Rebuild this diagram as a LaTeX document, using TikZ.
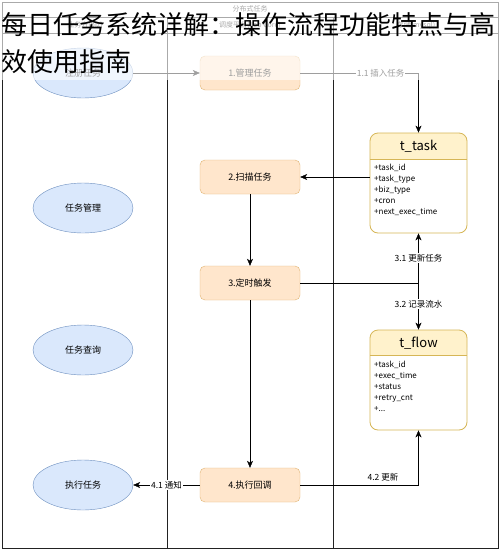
\documentclass[tikz,border=0pt]{standalone}
\usepackage{fontspec}
\setmainfont{Noto Sans CJK SC}
\usepackage{tikz}
\usetikzlibrary{shapes.geometric,arrows.meta}

\definecolor{userfill}{HTML}{DAE8FC}
\definecolor{userline}{HTML}{6C8EBF}
\definecolor{stepfill}{HTML}{FFE6CC}
\definecolor{stepline}{HTML}{E0B473}
\definecolor{tblfill}{HTML}{FFF2CC}
\definecolor{tblline}{HTML}{D6B656}
\definecolor{laneline}{HTML}{222222}

\begin{document}
\begin{tikzpicture}[x=1pt,y=-1pt]
\tikzstyle{every node}+=[inner sep=0pt]
\tikzstyle{usecase}=[ellipse,draw=userline,fill=userfill,minimum width=100,minimum height=50,font=\fontsize{9}{11}\selectfont]
\tikzstyle{stepbox}=[rectangle,rounded corners=5,draw=stepline,fill=stepfill,minimum width=100,minimum height=34,font=\fontsize{9}{11}\selectfont]
\tikzstyle{tblbox}=[rectangle,rounded corners=8,draw=tblline,line width=0.8pt,minimum width=97]
\tikzstyle{flow}=[black,-{Stealth[length=7pt,width=6pt,inset=2pt]}]
\tikzstyle{tag}=[fill=white,inner sep=1pt,font=\fontsize{8.5}{10}\selectfont]
\tikzstyle{lanehd}=[text=laneline,font=\fontsize{7}{8}\selectfont]
\useasboundingbox (0,0) rectangle (500,550);
\fill [white] (0,0) rectangle (500,550);
% pool and lanes
\draw [laneline] (2,2) rectangle (498,548);
\draw [laneline] (2,17) -- (498,17);
\draw [laneline] (2,33) -- (498,33);
\draw [laneline] (167,17) -- (167,548);
\draw [laneline] (333,17) -- (333,548);
\node [lanehd] (pool) at (250,9) {分布式任务};
\node [lanehd] (lanebiz) at (85,25) {业务方(biz)};
\node [lanehd] (lanejob) at (250,25) {调度平台(Job Core)};
\node [lanehd] (lanedb) at (416,25) {存储(mysql)};
% biz lane
\node [usecase] (reg) at (83,73) {注册任务};
\node [usecase] (manage) at (83,208) {任务管理};
\node [usecase] (query) at (83,350) {任务查询};
\node [usecase] (run) at (83,485) {执行任务};
% job lane
\node [stepbox] (mgr) at (250,73) {1.管理任务};
\node [stepbox] (scan) at (250,177) {2.扫描任务};
\node [stepbox] (trig) at (250,283) {3.定时触发};
\node [stepbox] (exec) at (250,485) {4.执行回调};
% tables
\fill [tblfill, rounded corners=8] (370,133) -- (370,159) -- (467,159) -- (467,133) -- cycle;
\fill [tblfill] (370,146) rectangle (467,159);
\node [tblbox, minimum height=100] (ttask) at (418.5,183) {};
\draw [tblline, line width=0.8pt] (370,159) -- (467,159);
\node [font=\fontsize{13}{15}\selectfont] (ttaskhd) at (418.5,146) {t\_task};
\node [anchor=north west, align=left, font=\fontsize{8}{11}\selectfont] (ttaskfd) at (374,164)
  {+task\_id\\+task\_type\\+biz\_type\\+cron\\+next\_exec\_time};
\fill [tblfill, rounded corners=8] (370,330) -- (370,355) -- (467,355) -- (467,330) -- cycle;
\fill [tblfill] (370,342) rectangle (467,355);
\node [tblbox, minimum height=100] (tflow) at (418.5,380) {};
\draw [tblline, line width=0.8pt] (370,355) -- (467,355);
\node [font=\fontsize{13}{15}\selectfont] (tflowhd) at (418.5,343) {t\_flow};
\node [anchor=north west, align=left, font=\fontsize{8}{11}\selectfont] (tflowfd) at (374,361)
  {+task\_id\\+exec\_time\\+status\\+retry\_cnt\\+...};
% connectors
\draw [flow] (reg) -- (mgr);
\draw [flow] (mgr.east) -| node [tag, pos=0.34] {1.1 插入任务} (ttask.north);
\draw [flow] (ttask.west |- scan.east) -- (scan.east);
\draw [flow] (scan) -- (trig);
\coordinate (split) at (ttask.south |- trig.east);
\draw [black] (trig.east) -- (split);
\draw [flow] (split) -- node [tag, pos=0.5] {3.1 更新任务} (ttask.south);
\draw [flow] (split) -- node [tag, pos=0.45] {3.2 记录流水} (tflow.north);
\draw [flow] (trig) -- (exec);
\draw [flow] (exec) -- node [tag] {4.1 通知} (run);
\draw [flow] (exec.east) -| node [tag, pos=0.35, above=3pt, fill=none] {4.2 更新} (tflow.south);
% title over the top
\fill [white, opacity=0.62] (0,0) rectangle (500,80);
\node [anchor=base west, font=\fontsize{26}{30}\selectfont] (title) at (1,34) {每日任务系统详解：操作流程功能特点与高};
\node [anchor=base west, font=\fontsize{26}{30}\selectfont] (title2) at (1,71) {效使用指南};
\end{tikzpicture}
\end{document}
